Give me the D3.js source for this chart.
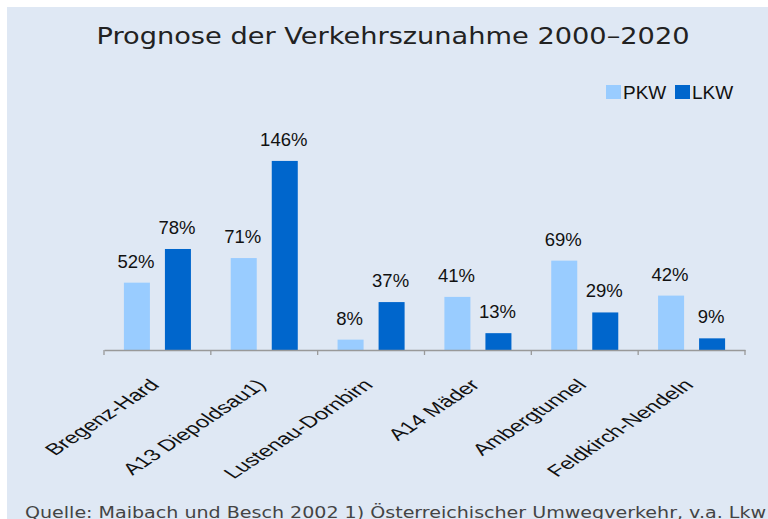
<!DOCTYPE html>
<html>
<head>
<meta charset="utf-8">
<script src="https://cdn.jsdelivr.net/npm/d3@7"></script>
<style>
  html, body { margin: 0; padding: 0; background: #ffffff; }
  svg { display: block; }
</style>
</head>
<body>
<script>
const categories = ["Bregenz-Hard", "A13 Diepoldsau1)", "Lustenau-Dornbirn", "A14 Mäder", "Ambergtunnel", "Feldkirch-Nendeln"];
const seriesNames = ["PKW", "LKW"];
const pkwValues = [52, 71, 8, 41, 69, 42];
const lkwValues = [78, 146, 37, 13, 29, 9];
const titleText = "Prognose der Verkehrszunahme 2000–2020";
const sourceText = "Quelle: Maibach und Besch 2002 1) Österreichischer Umwegverkehr, v.a. Lkw";

const W = 768, H = 519;
const colors = { PKW: "#99ccff", LKW: "#0066cc" };

const svg = d3.select("body").append("svg").attr("width", W).attr("height", H);

// panel background
svg.append("rect").attr("x", 7).attr("y", 7).attr("width", W - 7).attr("height", H - 7).attr("fill", "#dfe8f4");

const baseY = 350;
const x = d3.scaleBand().domain(categories).range([104, 745]).padding(0);
const x1 = d3.scaleBand().domain(seriesNames).range([0, x.bandwidth()]).paddingInner(0.366).paddingOuter(0.485);
const y = d3.scaleLinear().domain([0, 160]).range([baseY, baseY - 160 * 1.295]);

const data = categories.map((c, i) => ({ cat: c, PKW: pkwValues[i], LKW: lkwValues[i] }));

// title
svg.append("text")
  .attr("x", 393).attr("y", 44)
  .attr("text-anchor", "middle")
  .attr("font-family", "DejaVu Sans, Verdana, sans-serif")
  .attr("font-size", 23)
  .attr("fill", "#222")
  .attr("textLength", 593)
  .attr("lengthAdjust", "spacingAndGlyphs")
  .text(titleText);

// bars
const groups = svg.append("g").selectAll("g").data(data).join("g")
  .attr("transform", d => `translate(${x(d.cat)},0)`);

groups.selectAll("rect").data(d => seriesNames.map(k => ({ key: k, value: d[k] }))).join("rect")
  .attr("x", d => x1(d.key))
  .attr("width", x1.bandwidth())
  .attr("y", d => y(d.value))
  .attr("height", d => y(0) - y(d.value))
  .attr("fill", d => colors[d.key]);

groups.selectAll("text.val").data(d => seriesNames.map(k => ({ key: k, value: d[k] }))).join("text")
  .attr("class", "val")
  .attr("x", d => x1(d.key) + x1.bandwidth() / 2 - 1)
  .attr("y", d => y(d.value) - 15)
  .attr("text-anchor", "middle")
  .attr("font-family", "Liberation Sans, Arial, sans-serif")
  .attr("font-size", 18.5)
  .attr("fill", "#111")
  .text(d => d.value + "%");

// axis
const axis = svg.append("g").attr("transform", `translate(0,${baseY})`)
  .call(d3.axisBottom(x).tickSize(0).tickSizeOuter(0).tickFormat(""));
axis.select(".domain").attr("stroke", "#999").attr("stroke-width", 1.3);

const boundaries = categories.map(c => x(c)).concat([x(categories[categories.length - 1]) + x.bandwidth()]);
svg.append("g").selectAll("line").data(boundaries).join("line")
  .attr("x1", d => d).attr("x2", d => d)
  .attr("y1", baseY).attr("y2", baseY + 5)
  .attr("stroke", "#999").attr("stroke-width", 1.3);

// category labels (rotated, horizontally stretched like the reference)
svg.append("g").selectAll("text").data(categories).join("text")
  .attr("transform", c => `translate(${x(c) + x.bandwidth() / 2 + 3},${baseY + 36}) scale(1.5,1) rotate(-45)`)
  .attr("text-anchor", "end")
  .attr("font-family", "Liberation Sans, Arial, sans-serif")
  .attr("font-size", 16)
  .attr("fill", "#111")
  .text(c => c);

// legend
const legend = svg.append("g");
const legendX = [606, 675];
seriesNames.forEach((k, i) => {
  legend.append("rect").attr("x", legendX[i]).attr("y", 85).attr("width", 15).attr("height", 14).attr("fill", colors[k]);
  legend.append("text").attr("x", legendX[i] + 17).attr("y", 98.5)
    .attr("font-family", "Liberation Sans, Arial, sans-serif")
    .attr("font-size", 19)
    .attr("fill", "#111")
    .text(k);
});

// source
svg.append("text")
  .attr("x", 25).attr("y", 518)
  .attr("font-family", "DejaVu Sans, Verdana, sans-serif")
  .attr("font-size", 16)
  .attr("fill", "#444")
  .attr("textLength", 741)
  .attr("lengthAdjust", "spacingAndGlyphs")
  .text(sourceText);
</script>
</body>
</html>
